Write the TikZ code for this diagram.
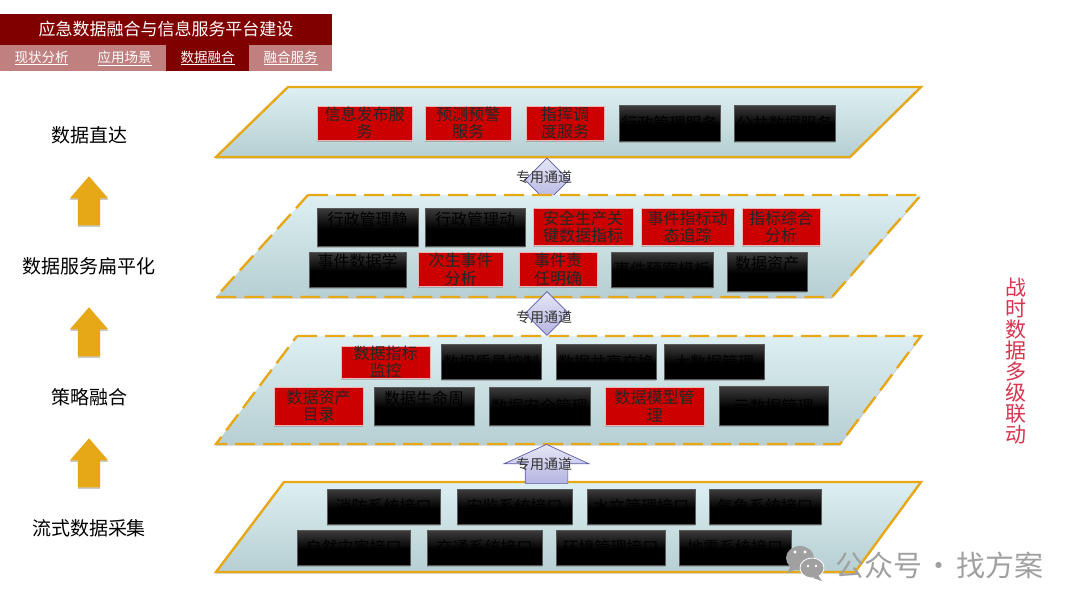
\documentclass[tikz,border=0pt]{standalone}
\usepackage{fontspec}
\setmainfont{Noto Sans CJK SC}
\usetikzlibrary{shapes.geometric,shapes.arrows,positioning,shadows}
\newcommand{\fs}[1]{\fontsize{#1}{#1}\selectfont}
\definecolor{headred}{HTML}{800000}
\definecolor{tabpink}{HTML}{C08080}
\definecolor{panelline}{HTML}{E6A817}
\definecolor{paneltop}{HTML}{DDEFF2}
\definecolor{panelmid}{HTML}{D8EAED}
\definecolor{panelbot}{HTML}{B6CFD2}
\definecolor{boxred}{HTML}{CC0000}
\definecolor{chanline}{HTML}{5A5AA8}
\definecolor{chantop}{HTML}{E6E6F6}
\definecolor{chanbot}{HTML}{B4B4E2}
\definecolor{sidered}{HTML}{D9344F}
\definecolor{markgray}{HTML}{A0A0A0}
\pgfdeclareverticalshading{blockfade}{100bp}{color(0bp)=(black); color(48bp)=(black); color(75bp)=(black!76); color(100bp)=(black!76)}
\tikzstyle{softshadow} = [drop shadow={shadow xshift=0pt,shadow yshift=-1.5pt,opacity=.35,fill=black!60}]
\tikzstyle{panel} = [draw=panelline, line width=2.4pt, line join=miter, top color=paneltop, middle color=panelmid, bottom color=panelbot, softshadow]
\tikzstyle{dashedpanel} = [panel, dash pattern=on 20pt off 8pt]
\tikzstyle{redblock} = [rectangle, draw=white!70!boxred, line width=.5pt, fill=boxred, text=black!85, inner sep=0pt, outer sep=0pt, align=center, font=\fontsize{16}{17.5}\selectfont, softshadow]
\tikzstyle{blackblock} = [rectangle, draw=black!65, line width=.6pt, shading=blockfade, text=black, inner sep=0pt, outer sep=0pt, align=center, font=\fontsize{16}{17.5}\selectfont, softshadow]
\tikzstyle{tab} = [rectangle, fill=tabpink, text=white, inner sep=0pt, outer sep=0pt, minimum width=83pt, minimum height=26pt, font=\fs{13.5}]
\tikzstyle{sidelabel} = [text=black, inner sep=0pt, font=\fs{19}]
\tikzstyle{uparrow} = [single arrow, shape border rotate=90, anchor=tip, fill=panelline, inner xsep=11pt, inner ysep=0pt, minimum height=49pt, minimum width=38pt, single arrow head extend=8pt, single arrow tip angle=82, softshadow]
\tikzstyle{chandiamond} = [diamond, draw=chanline, line width=.7pt, top color=chantop, bottom color=chanbot, inner sep=0pt, minimum width=44pt, minimum height=44pt]
\tikzstyle{chantext} = [text=black!80, inner sep=0pt, font=\fs{14}]
\begin{document}
\begin{tikzpicture}[x=1pt,y=-1pt]
    \useasboundingbox (0,0) rectangle (1080,608);

    % header
    \node [rectangle, fill=headred, text=white, inner sep=0pt, outer sep=0pt, minimum width=332pt, minimum height=31pt, font=\fs{17}] (title) at (166,29.5) {应急数据融合与信息服务平台建设};
    \node [tab] (tabstate) at (41.5,58) {\underline{现状分析}};
    \node [tab, right=0pt of tabstate] (tabscene) {\underline{应用场景}};
    \node [tab, right=0pt of tabscene, fill=headred] (tabfusion) {\underline{数据融合}};
    \node [tab, right=0pt of tabfusion] (tabservice) {\underline{融合服务}};

    % left column
    \node [sidelabel] (direct) at (89,135) {数据直达};
    \node [sidelabel] (flat) at (89,266) {数据服务扁平化};
    \node [sidelabel] (policy) at (89,397) {策略融合};
    \node [sidelabel] (stream) at (89,528) {流式数据采集};
    \node [uparrow] (uptop) at (89,176) {};
    \node [uparrow] (upmid) at (89,307) {};
    \node [uparrow] (uplow) at (89,438) {};

    \node [text=sidered, inner sep=0pt, align=center, font=\fontsize{21}{21}\selectfont] (linkage) at (1016,361) {战\\时\\数\\据\\多\\级\\联\\动};

    % layer 1
    \path [panel] (288,87) -- (921,87) -- (850,157) -- (216,157) -- cycle;
    \node [chandiamond] (chanone) at (547,180) {};
    \node [redblock, minimum width=95pt, minimum height=34pt] (publish) at (364.5,123) {信息发布服\\务};
    \node [redblock, right=13pt of publish, minimum width=86pt, minimum height=34pt] (warn) {预测预警\\服务};
    \node [redblock, right=15pt of warn, minimum width=78pt, minimum height=34pt] (command) {指挥调\\度服务};
    \node [blackblock, right=15pt of command, minimum width=101pt, minimum height=36pt] (adminsrv) {行政管理服务};
    \node [blackblock, right=14pt of adminsrv, minimum width=101pt, minimum height=36pt] (publicsrv) {公共数据服务};

    % layer 2
    \path [dashedpanel] (308,195) -- (921,195) -- (832,297) -- (216,297) -- cycle;
    \node [chandiamond] (chantwo) at (547,313.5) {};
    \node [blackblock, minimum width=101pt, minimum height=38pt] (adminstatic) at (367.5,227) {行政管理静\\\mbox{}};
    \node [blackblock, right=7pt of adminstatic, minimum width=100pt, minimum height=38pt] (admindyn) {行政管理动\\\mbox{}};
    \node [redblock, right=8pt of admindyn, minimum width=100pt, minimum height=37pt] (safety) {安全生产关\\键数据指标};
    \node [redblock, right=8pt of safety, minimum width=93pt, minimum height=37pt] (track) {事件指标动\\态追踪};
    \node [redblock, right=8pt of track, minimum width=78pt, minimum height=37pt] (overall) {指标综合\\分析};
    \node [blackblock, minimum width=97pt, minimum height=35pt] (eventlearn) at (357.5,269.5) {事件数据学\\\mbox{}};
    \node [redblock, right=12pt of eventlearn, minimum width=85pt, minimum height=34pt] (secondary) {次生事件\\分析};
    \node [redblock, right=16pt of secondary, minimum width=78pt, minimum height=34pt] (duty) {事件责\\任明确};
    \node [blackblock, right=14pt of duty, minimum width=102pt, minimum height=35pt] (eventplan) {事件预案模板};
    \node [blackblock, right=14pt of eventplan, minimum width=80pt, minimum height=39pt, yshift=-2pt] (assetup) {数据资产\\\mbox{}};

    % layer 3
    \path [dashedpanel] (297,336) -- (921,336) -- (840,444) -- (216,444) -- cycle;
    \node [redblock, minimum width=89pt, minimum height=32pt] (monitor) at (385.5,362) {数据指标\\监控};
    \node [blackblock, right=11pt of monitor, minimum width=100pt, minimum height=35pt] (quality) {数据质量控制};
    \node [blackblock, right=15pt of quality, minimum width=100pt, minimum height=35pt] (share) {数据共享交换};
    \node [blackblock, right=8pt of share, minimum width=100pt, minimum height=35pt] (bigdata) {大数据管理};
    \node [redblock, minimum width=89pt, minimum height=38pt] (catalog) at (318.5,406) {数据资产\\目录};
    \node [blackblock, right=11pt of catalog, minimum width=100pt, minimum height=38pt] (lifecycle) {数据生命周\\\mbox{}};
    \node [blackblock, right=15pt of lifecycle, minimum width=101pt, minimum height=38pt] (security) {数据安全管理};
    \node [redblock, right=15pt of security, minimum width=99pt, minimum height=38pt] (model) {数据模型管\\理};
    \node [blackblock, right=15pt of model, minimum width=109pt, minimum height=39pt] (metadata) {元数据管理};

    % layer 4
    \path [panel] (284,482) -- (921,482) -- (855,572) -- (216,572) -- cycle;
    \node [single arrow, shape border rotate=90, anchor=tip, draw=chanline, line width=.7pt, top color=chantop, bottom color=chanbot, inner xsep=21pt, inner ysep=0pt, minimum height=39pt, minimum width=84pt, single arrow head extend=21pt, single arrow tip angle=131] (chanthree) at (546.5,444) {};
    \node [blackblock, minimum width=113pt, minimum height=35pt] (fire) at (383.5,506.5) {消防系统接口};
    \node [blackblock, right=17pt of fire, minimum width=115pt, minimum height=35pt] (safesys) {安监系统接口};
    \node [blackblock, right=15pt of safesys, minimum width=108pt, minimum height=35pt] (water) {水文管理接口};
    \node [blackblock, right=14pt of water, minimum width=112pt, minimum height=35pt] (weather) {气象系统接口};
    \node [blackblock, minimum width=113pt, minimum height=35pt] (disaster) at (353.5,547.5) {自然灾害接口};
    \node [blackblock, right=17pt of disaster, minimum width=115pt, minimum height=35pt] (traffic) {交通系统接口};
    \node [blackblock, right=14pt of traffic, minimum width=109pt, minimum height=35pt] (environ) {环境管理接口};
    \node [blackblock, right=14pt of environ, minimum width=112pt, minimum height=35pt] (quake) {地震系统接口};

    \node [chantext] (chanonetext) at (544,177) {专用通道};
    \node [chantext] (chantwotext) at (544,317) {专用通道};
    \node [chantext] (chanthreetext) at (544,464) {专用通道};

    % mark
    \fill [markgray] (800,558) ellipse (14 and 12);
    \fill [markgray] (791,566) -- (787,573) -- (797,569) -- cycle;
    \fill [markgray, draw=white, line width=.8pt] (812,568) ellipse (12 and 10);
    \fill [markgray] (818,575) -- (822,581) -- (813,578) -- cycle;
    \fill [white] (795,552) circle (1.6) (805,552) circle (1.6) (808,566) circle (1.4) (816,566) circle (1.4);
    \node [text=markgray, anchor=west, inner sep=0pt, font=\fs{29}] (marktext) at (835,565) {公众号\hspace{2.5pt}·\hspace{2.5pt}找方案};
\end{tikzpicture}
\end{document}
